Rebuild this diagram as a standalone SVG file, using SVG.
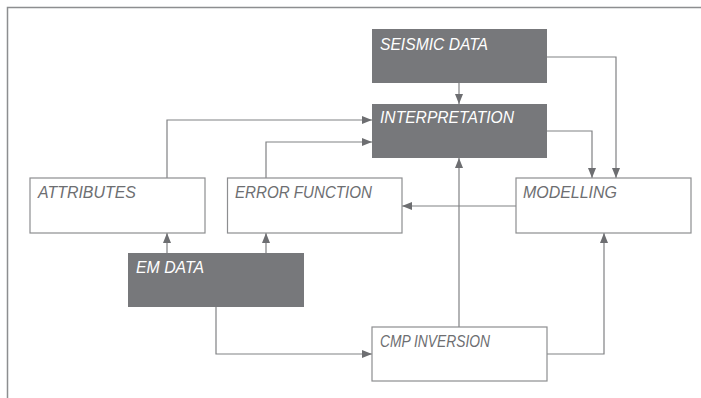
<svg xmlns="http://www.w3.org/2000/svg" width="701" height="398" viewBox="0 0 701 398">
<style>
.dark{fill:#77787b;stroke:none}
.light{fill:#ffffff;stroke:#8d8e90;stroke-width:1.2}
.t{font-family:"Liberation Sans",Arial,sans-serif;font-style:italic;font-size:16px}
.tw{fill:#ffffff}
.tg{fill:#6d6e71}
.c{fill:none;stroke:#808184;stroke-width:1.2}
</style>
<defs>
<marker id="ah" viewBox="0 0 10 8" refX="10" refY="4" markerWidth="10" markerHeight="8" markerUnits="userSpaceOnUse" orient="auto">
<path d="M0,0 L10,4 L0,8 Z" fill="#6d6e71"/>
</marker>
</defs>
<rect width="701" height="398" fill="#ffffff"/>
<path d="M7.5,398 V7.5 H701" fill="none" stroke="#8d8e90" stroke-width="1.5"/>
<g id="connectors">
<path class="c" d="M459,83 V104" marker-end="url(#ah)"/>
<path class="c" d="M547,57 H616 V178" marker-end="url(#ah)"/>
<path class="c" d="M547,131 H592 V178" marker-end="url(#ah)"/>
<path class="c" d="M167,178 V120 H372" marker-end="url(#ah)"/>
<path class="c" d="M266,178 V142 H372" marker-end="url(#ah)"/>
<path class="c" d="M516,206 H402" marker-end="url(#ah)"/>
<path class="c" d="M167,253 V233" marker-end="url(#ah)"/>
<path class="c" d="M266,253 V233" marker-end="url(#ah)"/>
<path class="c" d="M216,307 V354 H372" marker-end="url(#ah)"/>
<path class="c" d="M459,327 V158" marker-end="url(#ah)"/>
<path class="c" d="M547,354 H604 V233" marker-end="url(#ah)"/>
</g>
<g id="seismic">
<rect class="dark" x="372" y="29" width="175" height="54"/>
<text class="t tw" x="380" y="50" textLength="108" lengthAdjust="spacingAndGlyphs">SEISMIC DATA</text>
</g>
<g id="interpretation">
<rect class="dark" x="372" y="104" width="175" height="54"/>
<text class="t tw" x="380" y="123" textLength="134" lengthAdjust="spacingAndGlyphs">INTERPRETATION</text>
</g>
<g id="attributes">
<rect class="light" x="30" y="178" width="175" height="55"/>
<text class="t tg" x="38" y="198" textLength="98" lengthAdjust="spacingAndGlyphs">ATTRIBUTES</text>
</g>
<g id="error">
<rect class="light" x="227.5" y="178" width="174.5" height="55"/>
<text class="t tg" x="235" y="198" textLength="137" lengthAdjust="spacingAndGlyphs">ERROR FUNCTION</text>
</g>
<g id="modelling">
<rect class="light" x="516" y="178" width="175" height="55"/>
<text class="t tg" x="523" y="198" textLength="94" lengthAdjust="spacingAndGlyphs">MODELLING</text>
</g>
<g id="emdata">
<rect class="dark" x="128" y="253" width="176" height="54"/>
<text class="t tw" x="136" y="273" textLength="68" lengthAdjust="spacingAndGlyphs">EM DATA</text>
</g>
<g id="cmp">
<rect class="light" x="372" y="327" width="175" height="54"/>
<text class="t tg" x="380" y="347" textLength="110" lengthAdjust="spacingAndGlyphs">CMP INVERSION</text>
</g>
</svg>
